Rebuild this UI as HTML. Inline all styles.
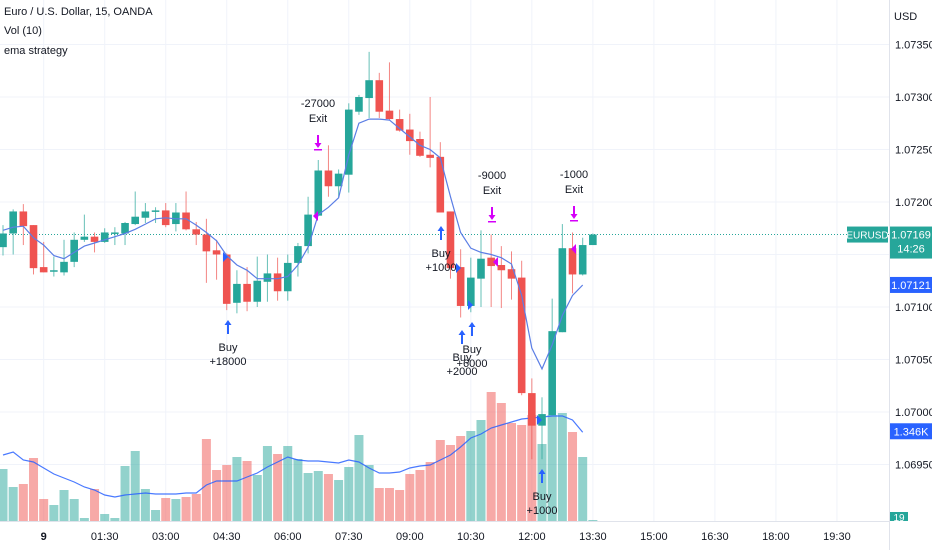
<!DOCTYPE html>
<html><head><meta charset="utf-8"><style>
html,body{margin:0;padding:0;background:#fff;}
body{width:932px;height:550px;overflow:hidden;font-family:"Liberation Sans",sans-serif;}
svg text{font-family:"Liberation Sans",sans-serif;}
</style></head><body>
<svg id="chart" width="932" height="550" viewBox="0 0 932 550" xmlns="http://www.w3.org/2000/svg"></svg>
<script>
const opens=[1.07157,1.07170,1.07191,1.07178,1.07138,1.07134,1.07133,1.07143,1.07164,1.07167,1.07162,1.07170,1.07170,1.07179,1.07185,1.07191,1.07192,1.07179,1.07190,1.07174,1.07169,1.07154,1.07150,1.07104,1.07122,1.07105,1.07124,1.07132,1.07115,1.07142,1.07158,1.07187,1.07230,1.07215,1.07226,1.07286,1.07299,1.07316,1.07287,1.07279,1.07269,1.07260,1.07245,1.07243,1.07191,1.07138,1.07101,1.07127,1.07147,1.07140,1.07136,1.07128,1.07018,1.06987,1.06997,1.07076,1.07156,1.07131,1.07159];
const highs=[1.07178,1.07193,1.07198,1.07178,1.07162,1.07148,1.07164,1.07171,1.07188,1.07171,1.07175,1.07176,1.07181,1.07210,1.07199,1.07195,1.07199,1.07199,1.07210,1.07181,1.07184,1.07164,1.07151,1.07135,1.07138,1.07148,1.07150,1.07147,1.07150,1.07161,1.07205,1.07240,1.07254,1.07231,1.07294,1.07302,1.07343,1.07323,1.07333,1.07288,1.07284,1.07267,1.07300,1.07257,1.07191,1.07155,1.07147,1.07173,1.07169,1.07158,1.07153,1.07144,1.07032,1.07014,1.07108,1.07179,1.07171,1.07166,1.07170];
const lows=[1.07149,1.07150,1.07159,1.07131,1.07133,1.07129,1.07130,1.07138,1.07162,1.07152,1.07161,1.07159,1.07159,1.07178,1.07180,1.07180,1.07176,1.07172,1.07173,1.07159,1.07123,1.07126,1.07097,1.07094,1.07096,1.07100,1.07105,1.07106,1.07106,1.07129,1.07151,1.07187,1.07205,1.07205,1.07209,1.07283,1.07280,1.07280,1.07278,1.07267,1.07245,1.07243,1.07233,1.07190,1.07127,1.07090,1.07095,1.07100,1.07100,1.07099,1.07107,1.07016,1.06955,1.06955,1.06997,1.07076,1.07113,1.07130,1.07159];
const closes=[1.07170,1.07191,1.07177,1.07137,1.07133,1.07135,1.07143,1.07164,1.07167,1.07162,1.07171,1.07171,1.07180,1.07186,1.07191,1.07192,1.07178,1.07190,1.07174,1.07169,1.07153,1.07150,1.07103,1.07122,1.07105,1.07125,1.07132,1.07115,1.07142,1.07158,1.07188,1.07230,1.07215,1.07227,1.07288,1.07300,1.07316,1.07286,1.07279,1.07268,1.07258,1.07244,1.07242,1.07190,1.07137,1.07101,1.07128,1.07146,1.07139,1.07135,1.07127,1.07018,1.06987,1.06998,1.07077,1.07156,1.07131,1.07159,1.07169];
const emaVals=[1.07173,1.07176,1.07177,1.07166,1.07159,1.07149,1.07146,1.07152,1.07158,1.07161,1.07164,1.07167,1.07170,1.07174,1.07179,1.07184,1.07185,1.07184,1.07184,1.07178,1.07171,1.07163,1.07149,1.07140,1.07135,1.07127,1.07127,1.07127,1.07129,1.07140,1.07157,1.07188,1.07195,1.07204,1.07245,1.07275,1.07279,1.07279,1.07278,1.07270,1.07262,1.07254,1.07250,1.07242,1.07205,1.07171,1.07156,1.07152,1.07150,1.07147,1.07141,1.07111,1.07061,1.07041,1.07064,1.07092,1.07111,1.07121];
const volumes=[795,525,570,960,345,255,480,345,60,495,120,60,840,1065,495,180,360,345,375,420,1245,780,855,975,915,705,1140,1020,1140,945,735,765,720,630,825,1305,855,510,510,480,720,780,900,1230,1155,1290,1365,1530,1950,1785,1485,1455,1605,1170,1605,1635,1350,975,30];
const volMA=[1005,1050,930,900,810,720,660,600,525,480,405,375,405,420,435,420,420,420,435,435,555,615,615,615,675,735,825,900,975,930,915,915,900,885,930,900,810,735,735,750,810,840,855,930,1005,1125,1260,1320,1410,1455,1500,1545,1560,1575,1590,1590,1530,1346];
const priceTicks=[1.0735,1.0730,1.0725,1.0720,1.0710,1.0705,1.0700,1.0695];
const gridPrices=[1.0735,1.0730,1.0725,1.0720,1.0715,1.0710,1.0705,1.0700,1.0695];
const timeTicks=["9","01:30","03:00","04:30","06:00","07:30","09:00","10:30","12:00","13:30","15:00","16:30","18:00","19:30"];
const timeTickBars=[4,10,16,22,28,34,40,46,52,58,64,70,76,82];

const NS="http://www.w3.org/2000/svg";
const svg=document.getElementById('chart');
function xB(i){return 3+10.17*i;}
function yP(p){return 202+(1.072-p)*105000;}
function yV(v){return 522-v/15;}
function mk(tag,attrs,parent){const e=document.createElementNS(NS,tag);for(const k in attrs)e.setAttribute(k,attrs[k]);(parent||svg).appendChild(e);return e;}
function txt(s,attrs,parent){const t=mk('text',attrs,parent);t.textContent=s;return t;}
const G='#26a69a',R='#ef5350';

const grid=mk('g',{});


gridPrices.forEach(p=>{mk('line',{x1:0,x2:889,y1:yP(p),y2:yP(p),stroke:'#f0f3fa','stroke-width':1},grid);});
timeTickBars.forEach(b=>{mk('line',{x1:xB(b),x2:xB(b),y1:0,y2:521,stroke:'#f0f3fa','stroke-width':1},grid);});

const vg=mk('g',{});


volumes.forEach((v,i)=>{
  const up=closes[i]>=opens[i];
  const r=mk('rect',{x:xB(i)-4.5,y:yV(v),width:9,height:522-yV(v),fill:up?'rgba(38,166,154,0.5)':'rgba(239,83,80,0.5)'},vg);
  
  
});
let d='';volMA.forEach((v,i)=>{d+=(i?'L':'M')+xB(i).toFixed(1)+','+yV(v).toFixed(1);});
const vma=mk('path',{d:d,fill:'none',stroke:'#2962ff','stroke-width':1.2,opacity:0.85});



const cpl=mk('line',{x1:0,x2:889,y1:yP(closes[closes.length-1]),y2:yP(closes[closes.length-1]),stroke:G,'stroke-width':1,'stroke-dasharray':'1 2'});



const cg=mk('g',{});


opens.forEach((o,i)=>{
  const c=closes[i],up=c>=o,col=up?G:R,x=xB(i);
  const w=mk('line',{x1:x,x2:x,y1:yP(highs[i]),y2:yP(lows[i]),stroke:col,'stroke-width':1,opacity:0.7},cg);
  
  
  const top=Math.min(yP(o),yP(c)),h=Math.max(1.5,Math.abs(yP(o)-yP(c)));
  const b=mk('rect',{x:x-3.8,y:top,width:7.6,height:h,fill:col},cg);
  
  
});
d='';emaVals.forEach((v,i)=>{d+=(i?'L':'M')+xB(i).toFixed(1)+','+yP(v).toFixed(1);});
const ema=mk('path',{d:d,fill:'none',stroke:'#5b7ee5','stroke-width':1.2});



const buys=[{x:228,y:320,l:["Buy","+18000"]},{x:441,y:226,l:["Buy","+1000"]},{x:462,y:330,l:["Buy","+2000"]},{x:472,y:322,l:["Buy","+6000"]},{x:542,y:469,l:["Buy","+1000"]}];
const exits=[{x:318,y:150,l:["-27000","Exit"]},{x:492,y:222,l:["-9000","Exit"]},{x:574,y:221,l:["-1000","Exit"]}];
const ents=[{x:225,y:257,c:'#2962ff',r:1},{x:316,y:216,c:'#d500f9',r:0},{x:458,y:268,c:'#2962ff',r:1},{x:470,y:305,c:'#2962ff',r:1},{x:496,y:262,c:'#d500f9',r:0},{x:539,y:420,c:'#2962ff',r:1},{x:574,y:249,c:'#d500f9',r:0}];
const mg=mk('g',{});


buys.forEach(b=>{
  const a=mk('path',{d:`M${b.x},${b.y}L${b.x-3.5},${b.y+5}L${b.x-1},${b.y+5}L${b.x-1},${b.y+14}L${b.x+1},${b.y+14}L${b.x+1},${b.y+5}L${b.x+3.5},${b.y+5}Z`,fill:'#2962ff'},mg);
  
  
  const t1=txt(b.l[0],{x:b.x,y:b.y+31,'text-anchor':'middle','font-size':11,fill:'#131722'},mg);
  
  
  const t2=txt(b.l[1],{x:b.x,y:b.y+45,'text-anchor':'middle','font-size':11,fill:'#131722'},mg);
  
  
});
exits.forEach(b=>{
  const a=mk('path',{d:`M${b.x},${b.y-2}L${b.x-3.5},${b.y-7}L${b.x-1},${b.y-7}L${b.x-1},${b.y-15}L${b.x+1},${b.y-15}L${b.x+1},${b.y-7}L${b.x+3.5},${b.y-7}Z M${b.x-4},${b.y-1}h8v1.5h-8Z`,fill:'#d500f9'},mg);
  
  
  const t1=txt(b.l[0],{x:b.x,y:b.y-43,'text-anchor':'middle','font-size':11,fill:'#131722'},mg);
  
  
  const t2=txt(b.l[1],{x:b.x,y:b.y-28,'text-anchor':'middle','font-size':11,fill:'#131722'},mg);
  
  
});
ents.forEach(e=>{
  const p=e.r?`M${e.x-2},${e.y-5}L${e.x+3},${e.y}L${e.x-2},${e.y+5}Z`:`M${e.x+2},${e.y-5}L${e.x-3},${e.y}L${e.x+2},${e.y+5}Z`;
  const t=mk('path',{d:p,fill:e.c},mg);
  
  
});

const ax=mk('g',{});


mk('rect',{x:889,y:0,width:43,height:550,fill:'#fff'},ax);
mk('line',{x1:889.5,x2:889.5,y1:0,y2:550,stroke:'#e0e3eb'},ax);
const usd=txt('USD',{x:894,y:20,'font-size':11,fill:'#131722'},ax);


priceTicks.forEach(p=>{const t=txt(p.toFixed(5),{x:895,y:yP(p)+4,'font-size':11,fill:'#131722'},ax);
  
  });
const tax=mk('g',{});


mk('rect',{x:0,y:521,width:889,height:29,fill:'#fff'},tax);
mk('line',{x1:0,x2:889,y1:521.5,y2:521.5,stroke:'#e0e3eb'},tax);
timeTicks.forEach((s,k)=>{const t=txt(s,{x:xB(timeTickBars[k]),y:540,'text-anchor':'middle','font-size':11,fill:'#131722','font-weight':s==='9'?'bold':'normal'},tax);
  
  });

function badge(x,y,w,h,fill,lines,name,fs){
  const g=mk('g',{});
  
  
  mk('rect',{x:x,y:y,width:w,height:h,fill:fill},g);
  lines.forEach((s,k)=>txt(s,{x:x+w/2,y:y+12+k*14,'text-anchor':'middle','font-size':fs||11,fill:'#fff'},g));
}
const lastY=yP(closes[closes.length-1]);
badge(847,lastY-8,41,16,G,['EURUSD'],'symbol-badge',10);
badge(890,lastY-8,42,32,G,[closes[closes.length-1].toFixed(5),'14:26'],'last-price-badge');
badge(890,yP(emaVals[emaVals.length-1])-8,42,16,'#2962ff',[emaVals[emaVals.length-1].toFixed(5)],'ema-value-badge');
badge(890,yV(volMA[volMA.length-1])-9,42,16,'#2962ff',[(volMA[volMA.length-1]/1000).toFixed(3)+'K'],'volume-ma-badge');
badge(890,512,18,9,G,[''],'volume-badge');
const vb=txt('19',{x:899,y:521,'text-anchor':'middle','font-size':10,fill:'#fff'});



const lg=mk('g',{});


const l1=txt('Euro / U.S. Dollar, 15, OANDA',{x:4,y:15,'font-size':11,fill:'#131722'},lg);


const l2=txt('Vol (10)',{x:4,y:34,'font-size':11,fill:'#131722'},lg);


const l3=txt('ema strategy',{x:4,y:54,'font-size':11,fill:'#131722'},lg);


</script>
</body></html>
